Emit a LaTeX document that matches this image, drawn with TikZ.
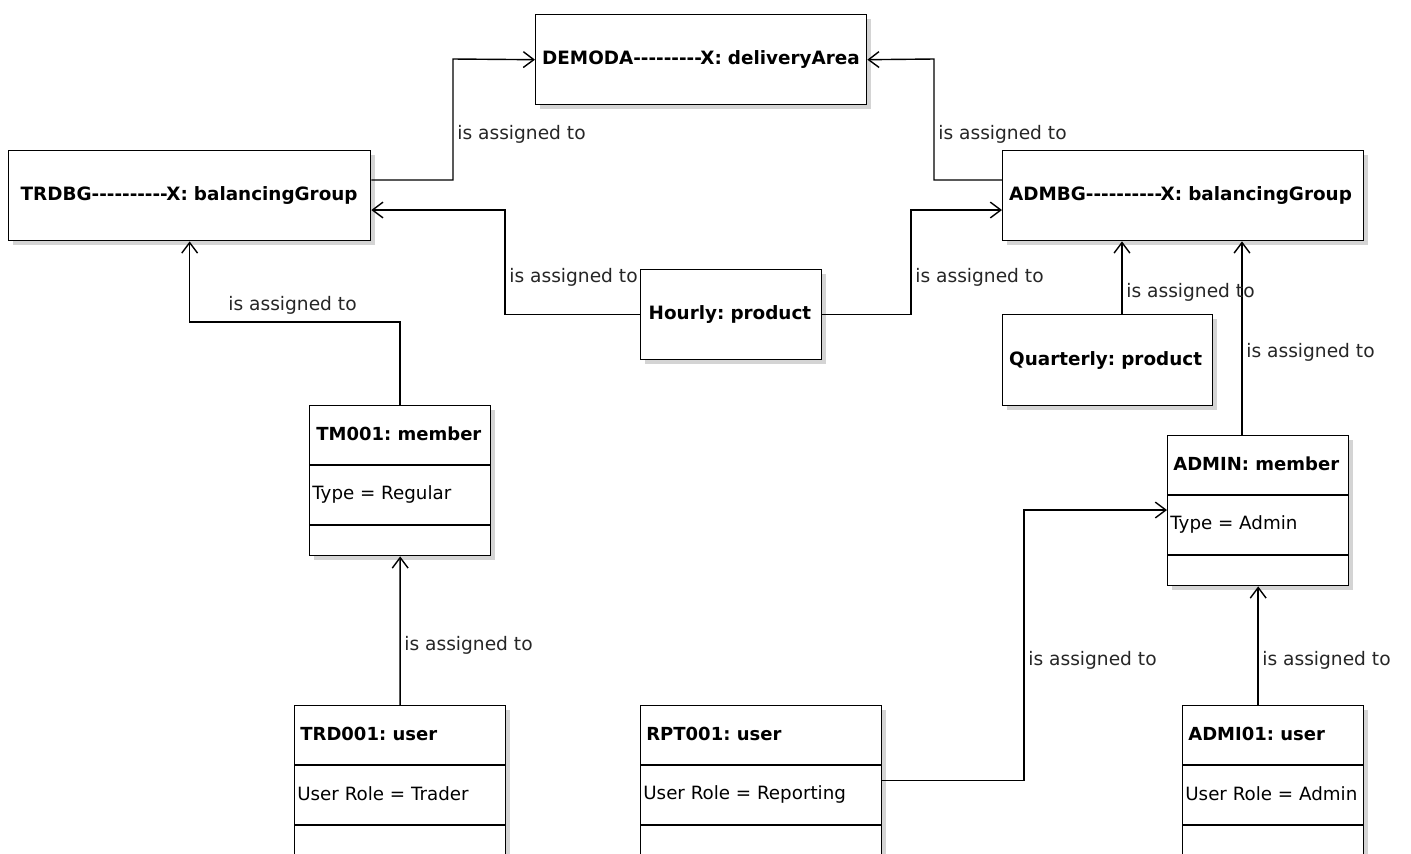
\documentclass[tikz,border=0pt]{standalone}
\usepackage{fontspec}
\setmainfont[Ligatures=TeXOff]{DejaVu Sans}
\usepackage{tikz}
\usetikzlibrary{arrows.meta}
\usetikzlibrary{shadows}
\frenchspacing
\tikzset{
    objbox/.style={
        draw,
        rectangle,
        line width=0.8pt,
        fill=white,
        anchor=north west,
        inner sep=0pt,
        drop shadow={shadow xshift=2.6pt, shadow yshift=-2.6pt, fill=black!17, opacity=1}
    },
    % box with one bold line of text
    titlebox/.style={
        objbox,
        inner xsep=0.13cm,
        align=left,
        font=\bfseries\fontsize{10.45}{12}\selectfont
    },
    hdr/.style={anchor=west, inner sep=0pt, font=\bfseries\fontsize{10.25}{12}\selectfont},
    attr/.style={anchor=west, inner sep=0pt, font=\fontsize{10.4}{12}\selectfont},
    lbl/.style={anchor=west, inner sep=0pt, text=black!85, font=\fontsize{10.6}{12}\selectfont},
    assignarrow/.style={
        line width=0.8pt,
        black,
        ->,
        >={Straight Barb[length=6pt, width=9pt]}
    }
}

\begin{document}
\begin{tikzpicture}[x=0.02cm, y=-0.02cm]
    \path[use as bounding box, fill=white] (0,0) rectangle (1411,853);
    \clip (0,0) rectangle (1411,853);

    % single line objects
    \node[titlebox, minimum width=6.62cm, minimum height=1.8cm, text width=6.36cm] (demoda) at (535,14) {\mbox{DEMODA---------X: deliveryArea}};
    \node[titlebox, inner xsep=0.24cm, minimum width=7.24cm, minimum height=1.8cm, text width=6.76cm] (trdbg) at (8,150) {\mbox{TRDBG----------X: balancingGroup}};
    \node[titlebox, minimum width=7.22cm, minimum height=1.8cm, text width=6.96cm] (admbg) at (1002,150) {\mbox{ADMBG----------X: balancingGroup}};
    \node[titlebox, inner xsep=0.16cm, minimum width=3.62cm, minimum height=1.8cm, text width=3.30cm] (hourly) at (640,269) {\mbox{Hourly: product}};
    \node[titlebox, minimum width=4.20cm, minimum height=1.82cm, text width=3.94cm] (quarterly) at (1002,314) {\mbox{Quarterly: product}};

    % members
    \node[objbox, minimum width=3.62cm, minimum height=3cm] (tm) at (309,405) {};
    \draw[line width=0.8pt] (tm.west |- 0,465) -- (tm.east |- 0,465) (tm.west |- 0,525) -- (tm.east |- 0,525);
    \node[hdr] (tmname) at (316,434) {TM001: member};
    \node[attr] (tmtype) at (312,494) {Type = Regular};

    \node[objbox, minimum width=3.62cm, minimum height=3cm] (admin) at (1167,435) {};
    \draw[line width=0.8pt] (admin.west |- 0,495) -- (admin.east |- 0,495) (admin.west |- 0,555) -- (admin.east |- 0,555);
    \node[hdr] (adminname) at (1173,464) {ADMIN: member};
    \node[attr] (admintype) at (1170,524) {Type = Admin};

    % users
    \node[objbox, minimum width=4.22cm, minimum height=3cm] (trd) at (294,705) {};
    \draw[line width=0.8pt] (trd.west |- 0,765) -- (trd.east |- 0,765) (trd.west |- 0,825) -- (trd.east |- 0,825);
    \node[hdr] (trdname) at (300,734) {TRD001: user};
    \node[attr] (trdrole) at (297,794) {User Role = Trader};

    \node[objbox, minimum width=4.82cm, minimum height=3cm] (rpt) at (640,705) {};
    \draw[line width=0.8pt] (rpt.west |- 0,765) -- (rpt.east |- 0,765) (rpt.west |- 0,825) -- (rpt.east |- 0,825);
    \node[hdr] (rptname) at (646,734) {RPT001: user};
    \node[attr] (rptrole) at (643,794) {User Role = Reporting};

    \node[objbox, minimum width=3.62cm, minimum height=3cm] (admi) at (1182,705) {};
    \draw[line width=0.8pt] (admi.west |- 0,765) -- (admi.east |- 0,765) (admi.west |- 0,825) -- (admi.east |- 0,825);
    \node[hdr] (adminame) at (1188,734) {ADMI01: user};
    \node[attr] (admirole) at (1185,794) {User Role = Admin};

    % is assigned to
    \draw[assignarrow] (trdbg.east |- 0,180) -| (453,59) -- (demoda.west);
    \draw[assignarrow] (admbg.west |- 0,180) -| (934,59) -- (demoda.east);
    \draw[assignarrow] (hourly.west) -| (505,210) -- (trdbg.east |- 0,210);
    \draw[assignarrow] (hourly.east) -| (911,210) -- (admbg.west |- 0,210);
    \draw[assignarrow] (quarterly.north -| 1122,0) -- (admbg.south -| 1122,0);
    \draw[assignarrow] (admin.north -| 1242,0) -- (admbg.south -| 1242,0);
    \draw[assignarrow] (tm.north) |- (trdbg.south |- 0,322) -- (trdbg.south);
    \draw[assignarrow] (trd.north) -- (tm.south);
    \draw[assignarrow] (rpt.east) -| (1024,510) -- (admin.west |- 0,510);
    \draw[assignarrow] (admin.south |- admi.north) -- (admin.south);

    \node[lbl] (l1) at (457,134) {is assigned to};
    \node[lbl] (l2) at (938,134) {is assigned to};
    \node[lbl] (l3) at (509,277) {is assigned to};
    \node[lbl] (l4) at (915,277) {is assigned to};
    \node[lbl] (l5) at (1126,292) {is assigned to};
    \node[lbl] (l6) at (1246,352) {is assigned to};
    \node[lbl] (l7) at (228,305) {is assigned to};
    \node[lbl] (l8) at (404,645) {is assigned to};
    \node[lbl] (l9) at (1028,660) {is assigned to};
    \node[lbl] (l10) at (1262,660) {is assigned to};

\end{tikzpicture}
\end{document}
